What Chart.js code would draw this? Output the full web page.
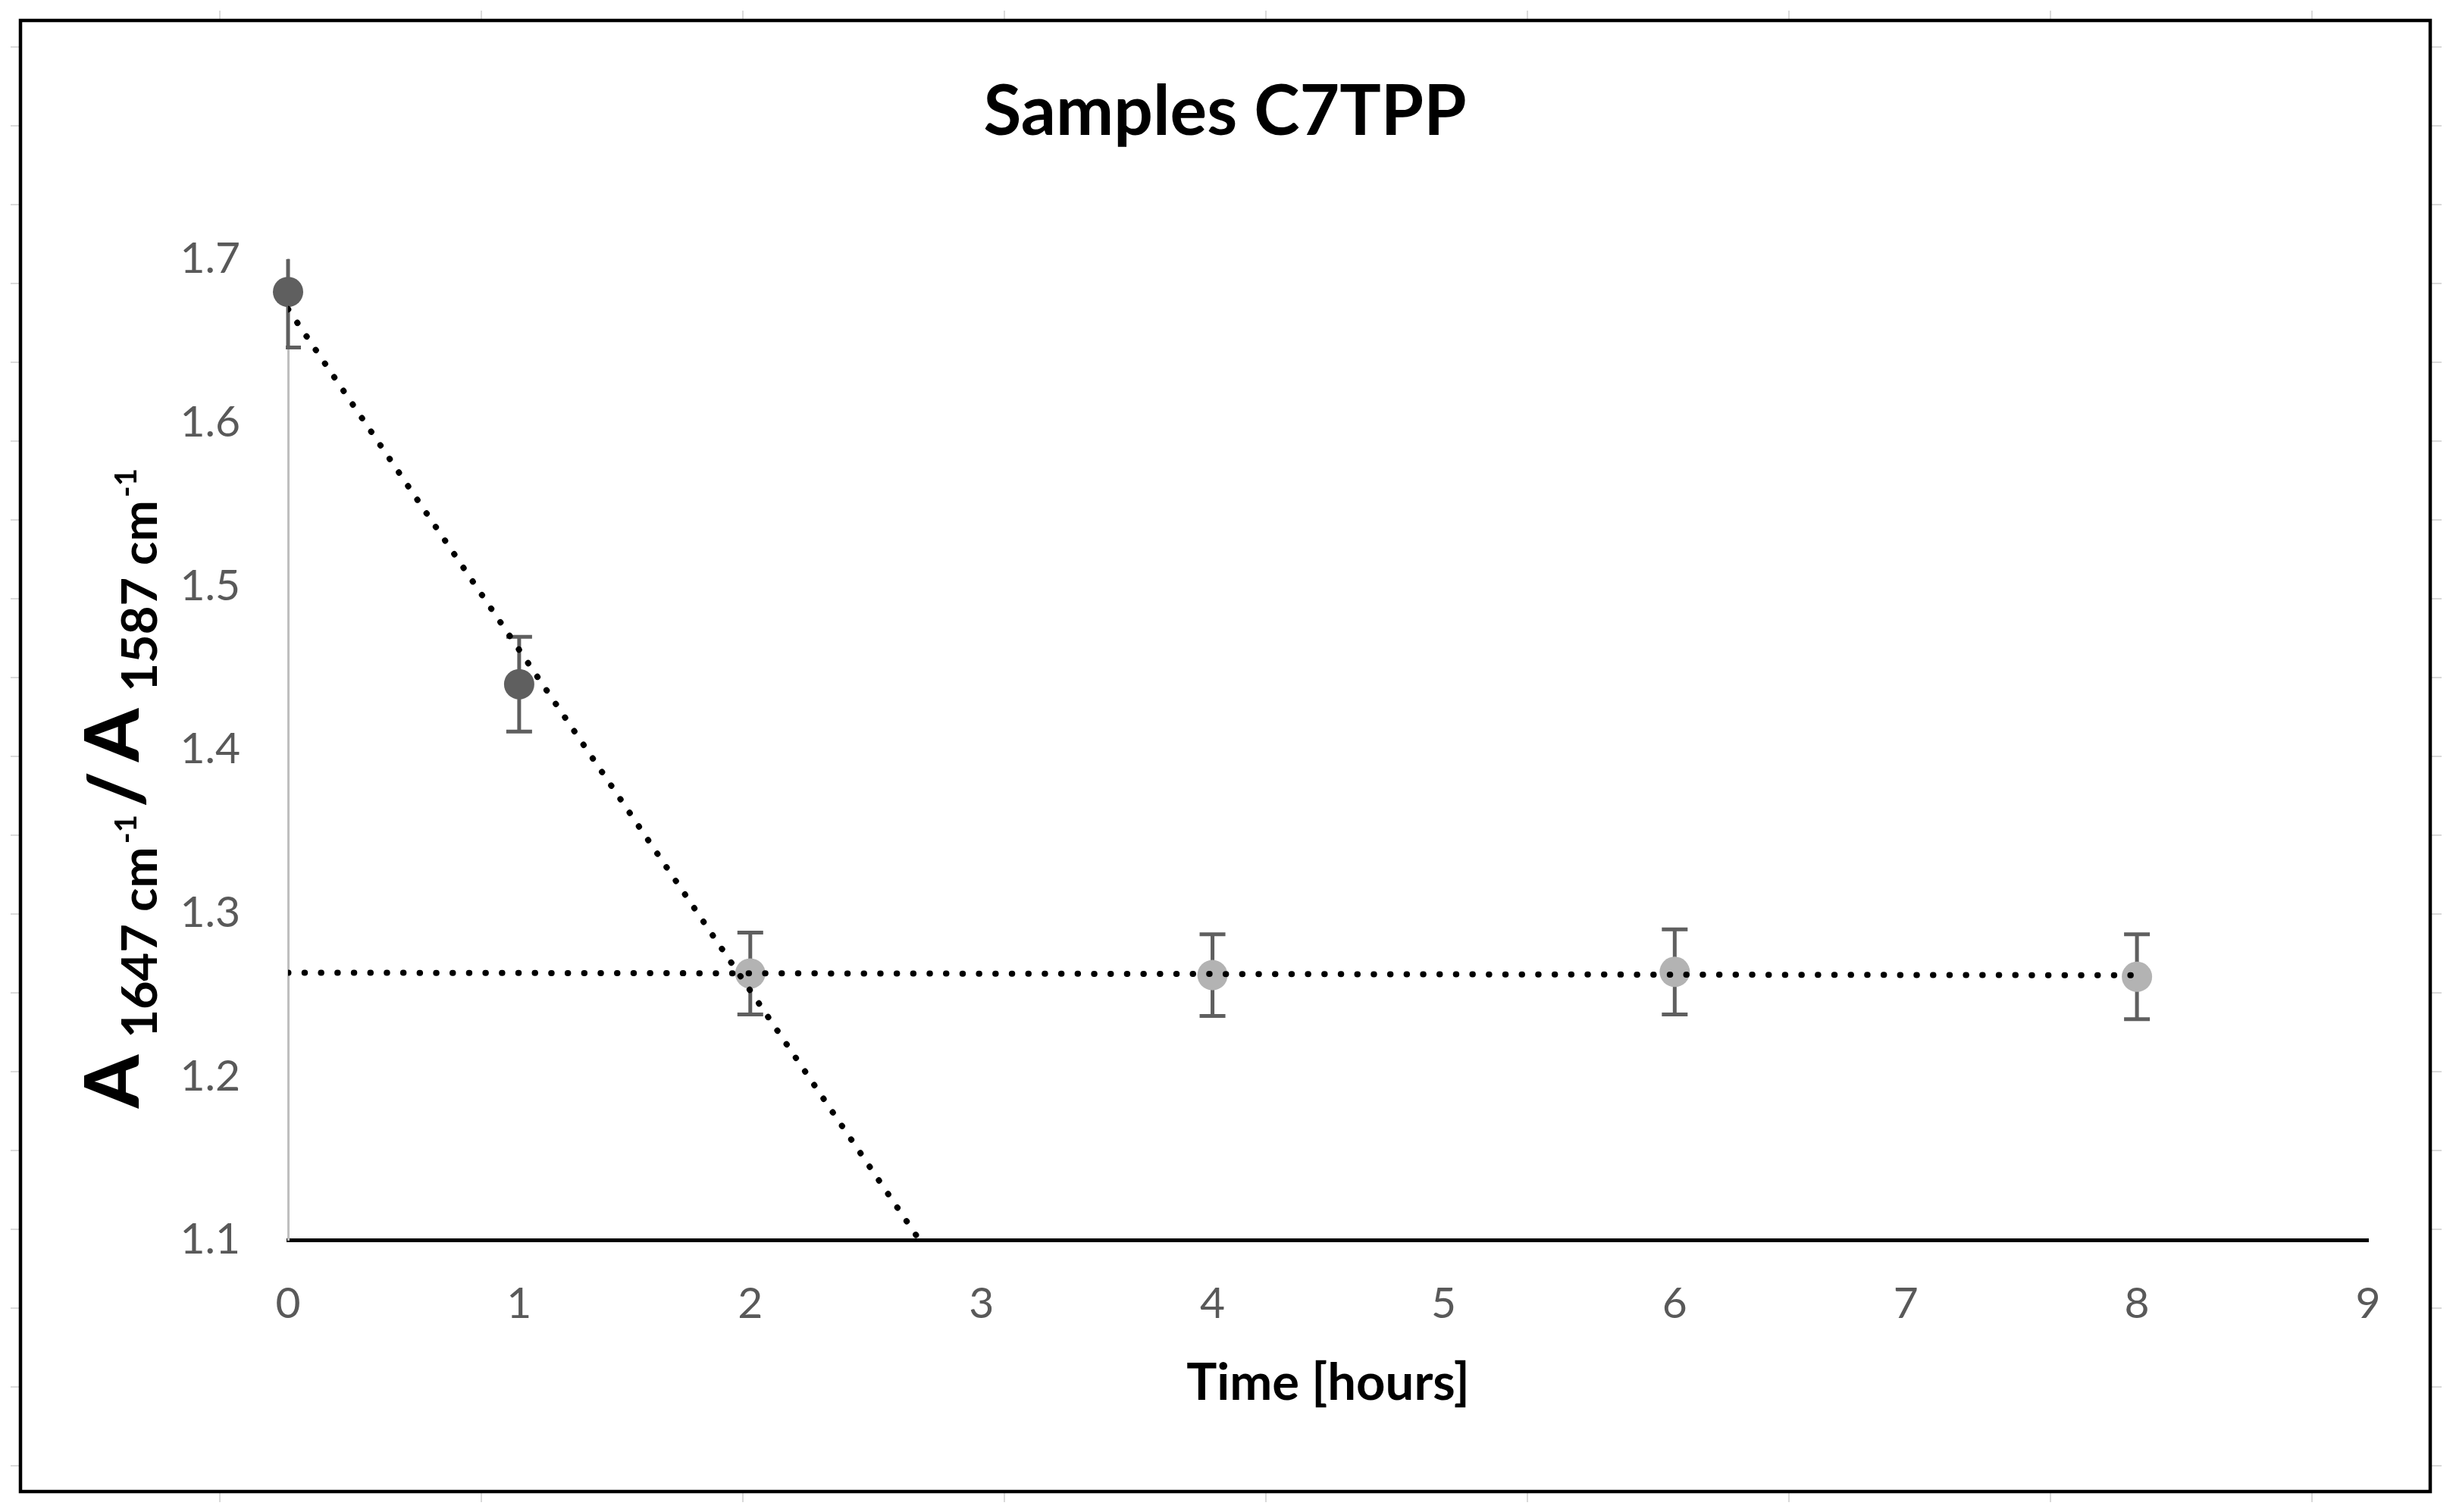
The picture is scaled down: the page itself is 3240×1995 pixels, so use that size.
<!DOCTYPE html>
<html>
<head>
<meta charset="utf-8">
<script src="https://cdn.jsdelivr.net/npm/chart.js@4.4.1/dist/chart.umd.min.js"></script>
<style>
  html, body { margin: 0; padding: 0; background: #fff; }
  #caixa { width: 3240px; height: 1995px; }
</style>
</head>
<body>
<div id="caixa"><canvas id="grafico" width="3240" height="1995"></canvas></div>
<script>
// Dados
const tempoEscuro = [0, 1];
const razaoEscuro = [1.680, 1.440];
const erroEscuro = [0.034, 0.029];

const tempoClaro = [2, 4, 6, 8];
const razaoClaro = [1.263, 1.262, 1.264, 1.261];
const erroClaro = [0.025, 0.025, 0.026, 0.026];

const ticksY = [1.1, 1.2, 1.3, 1.4, 1.5, 1.6, 1.7];
const ticksX = [0, 1, 2, 3, 4, 5, 6, 7, 8, 9];

const titulo = 'Samples C7TPP';
const tituloX = 'Time [hours]';

/**
 * Regressão linear simples (linha de tendência como no Excel).
 */
function regressaoLinear(xs, ys) {
  const n = xs.length;
  const mx = xs.reduce((a, b) => a + b, 0) / n;
  const my = ys.reduce((a, b) => a + b, 0) / n;
  let sxy = 0, sxx = 0;
  for (let i = 0; i < n; i++) {
    sxy += (xs[i] - mx) * (ys[i] - my);
    sxx += (xs[i] - mx) ** 2;
  }
  const b = sxy / sxx;
  return x => (my - b * mx) + b * x;
}

// Tendência 1: três primeiros pontos; tendência 2: série clara
const tend1 = regressaoLinear([...tempoEscuro, tempoClaro[0]], [...razaoEscuro, razaoClaro[0]]);
const tend2 = regressaoLinear(tempoClaro, razaoClaro);
const limitesTend1 = [0, 3];
const limitesTend2 = [0, 8];

const pontilhado = {
  type: 'line',
  borderColor: '#000',
  borderWidth: 8,
  borderDash: [0.5, 21.2],
  borderCapStyle: 'round',
  pointRadius: 0,
  fill: false
};

// Fundo, grade da planilha e moldura
const pluginFundo = {
  id: 'fundo',
  beforeDraw(chart) {
    const ctx = chart.ctx;
    ctx.save();
    ctx.fillStyle = '#fff';
    ctx.fillRect(0, 0, chart.width, chart.height);
    ctx.strokeStyle = '#dadada';
    ctx.lineWidth = 2;
    ctx.beginPath();
    for (let y = 62; y < chart.height; y += 104) {
      ctx.moveTo(14, y); ctx.lineTo(3221, y);
    }
    for (let x = 290; x < chart.width; x += 345) {
      ctx.moveTo(x, 14); ctx.lineTo(x, 1982);
    }
    ctx.stroke();
    ctx.fillStyle = '#fff';
    ctx.fillRect(27, 27, 3206 - 27, 1968 - 27);
    ctx.strokeStyle = '#000';
    ctx.lineWidth = 4.5;
    ctx.strokeRect(27, 27, 3206 - 27, 1968 - 27);
    ctx.restore();
  }
};

// Barras de erro
const pluginErros = {
  id: 'barrasErro',
  beforeDatasetsDraw(chart) {
    const { ctx, chartArea, scales: { x, y } } = chart;
    ctx.save();
    ctx.beginPath();
    ctx.rect(chartArea.left - 3, chartArea.top, chartArea.right - chartArea.left + 3, chartArea.bottom - chartArea.top);
    ctx.clip();
    ctx.strokeStyle = '#5f5f5f';
    ctx.lineWidth = 5;
    [[tempoEscuro, razaoEscuro, erroEscuro], [tempoClaro, razaoClaro, erroClaro]].forEach(([xs, ys, es]) => {
      xs.forEach((t, i) => {
        const px = x.getPixelForValue(t);
        const topo = y.getPixelForValue(ys[i] + es[i]);
        const base = y.getPixelForValue(ys[i] - es[i]);
        ctx.beginPath();
        ctx.moveTo(px, topo); ctx.lineTo(px, base);
        ctx.moveTo(px - 17, topo); ctx.lineTo(px + 17, topo);
        ctx.moveTo(px - 17, base); ctx.lineTo(px + 17, base);
        ctx.stroke();
      });
    });
    ctx.restore();
  }
};

// Títulos
const pluginTextos = {
  id: 'textos',
  afterDraw(chart) {
    const { ctx, chartArea } = chart;
    ctx.save();
    ctx.fillStyle = '#000';
    ctx.textBaseline = 'alphabetic';
    ctx.textAlign = 'center';
    ctx.font = 'bold 91px Lato';
    ctx.fillText(titulo, 1616, 178);
    ctx.font = 'bold 67px Lato';
    ctx.fillText(tituloX, (chartArea.left + chartArea.right) / 2, 1847);

    // Eixo Y: A 1647 cm-1 / A 1587 cm-1 (rotacionado, em sequência)
    ctx.textAlign = 'left';
    const partes = [
      // texto, fonte, linha de base (x), espaço antes
      ['A', '900 100px Lato', 183, 0],
      ['1647', 'bold 65px Lato', 207, 22],
      ['cm', 'bold 65px Lato', 207, 16],
      ['-1', 'bold 40px Lato', 180, 4],
      ['/', '900 100px Lato', 188, 10],
      ['A', '900 100px Lato', 183, 13],
      ['1587', 'bold 65px Lato', 207, 22],
      ['cm', 'bold 65px Lato', 207, 16],
      ['-1', 'bold 40px Lato', 180, 4]
    ];
    let pos = 1462;
    partes.forEach(([txt, fonte, bx, esp]) => {
      ctx.font = fonte;
      pos -= esp;
      ctx.save();
      ctx.translate(bx, pos);
      ctx.rotate(-Math.PI / 2);
      ctx.fillText(txt, 0, 0);
      ctx.restore();
      pos -= ctx.measureText(txt).width;
    });
    ctx.restore();
  }
};

const ctx = document.getElementById('grafico').getContext('2d');
new Chart(ctx, {
  type: 'scatter',
  data: {
    datasets: [
      {
        ...pontilhado,
        data: limitesTend1.map(t => ({ x: t, y: tend1(t) }))
      },
      {
        ...pontilhado,
        data: limitesTend2.map(t => ({ x: t, y: tend2(t) }))
      },
      {
        data: tempoEscuro.map((t, i) => ({ x: t, y: razaoEscuro[i] })),
        pointRadius: 20,
        pointBackgroundColor: '#5f5f5f',
        pointBorderWidth: 0,
        clip: false
      },
      {
        data: tempoClaro.map((t, i) => ({ x: t, y: razaoClaro[i] })),
        pointRadius: 20,
        pointBackgroundColor: '#b3b3b3',
        pointBorderWidth: 0,
        clip: false
      }
    ]
  },
  options: {
    responsive: false,
    devicePixelRatio: 1,
    animation: false,
    layout: { padding: { top: 342, right: 116, left: 0, bottom: 0 } },
    plugins: {
      legend: { display: false },
      tooltip: { enabled: false },
      title: { display: false }
    },
    scales: {
      x: {
        type: 'linear',
        min: 0,
        max: 9,
        afterFit: s => { s.height = 359; },
        afterBuildTicks: s => { s.ticks = ticksX.map(v => ({ value: v })); },
        grid: { display: false, drawTicks: false },
        border: { display: true, color: '#000', width: 5 },
        ticks: {
          padding: 50,
          color: '#595959',
          font: { family: 'Lato', size: 57 },
          callback: v => String(v)
        }
      },
      y: {
        min: 1.1,
        max: 1.7,
        afterFit: s => { s.width = 380; },
        afterBuildTicks: s => { s.ticks = ticksY.map(v => ({ value: v })); },
        grid: { display: false, drawTicks: false },
        border: { display: true, color: '#bfbfbf', width: 3 },
        ticks: {
          padding: 63,
          color: '#595959',
          font: { family: 'Lato', size: 57 },
          callback: v => v.toFixed(1)
        }
      }
    }
  },
  plugins: [pluginFundo, pluginErros, pluginTextos]
});
</script>
</body>
</html>
